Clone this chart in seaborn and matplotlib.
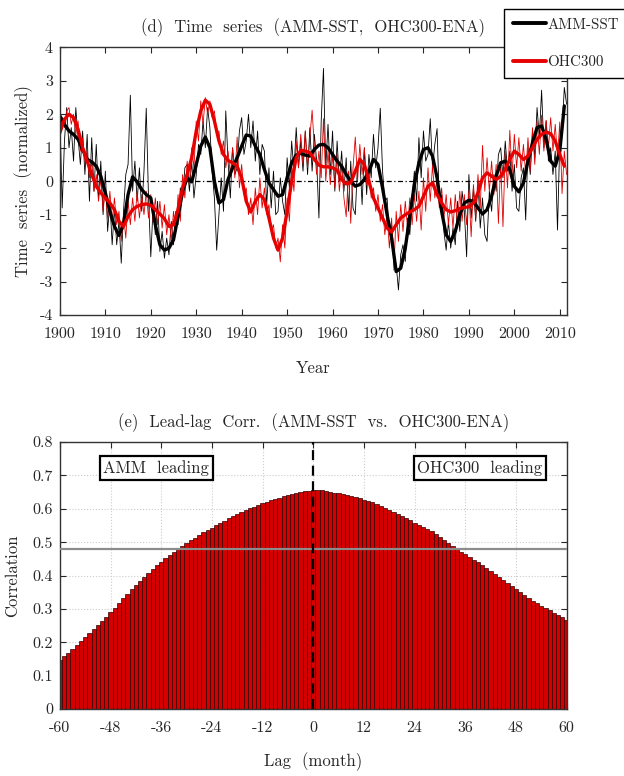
import numpy as np
import matplotlib
matplotlib.use("Agg")
import matplotlib.pyplot as plt
from matplotlib.lines import Line2D
import seaborn as sns

# ---- data ----
years = np.arange(1900, 2012)
amm_smooth = [1.95, 1.70, 1.50, 1.40, 1.25, 0.95, 0.65, 0.58, 0.45, 0.15,
              -0.35, -0.90, -1.35, -1.62, -1.30, -0.40, 0.13, -0.02, -0.25, -0.40,
              -0.50, -1.30, -1.90, -2.06, -2.00, -1.75, -1.05, -0.30, 0.10, -0.02,
              0.50, 1.05, 1.32, 1.00, 0.00, -0.65, -0.55, 0.05, 0.40, 0.70,
              1.05, 1.38, 1.35, 1.05, 0.80, 0.35, -0.05, -0.25, -0.45, -0.40,
              0.10, 0.55, 0.78, 0.83, 0.78, 0.75, 0.95, 1.08, 1.10, 1.00,
              0.80, 0.60, 0.45, 0.20, 0.00, -0.15, -0.10, 0.05, 0.30, 0.65,
              0.50, -0.20, -1.00, -1.70, -2.70, -2.60, -2.00, -1.05, -0.10, 0.55,
              0.95, 1.00, 0.75, 0.10, -0.90, -1.60, -1.80, -1.50, -1.00, -0.65,
              -0.57, -0.60, -0.80, -0.98, -0.85, -0.45, 0.15, 0.55, 0.60, 0.35,
              -0.15, -0.32, -0.05, 0.60, 1.15, 1.60, 1.65, 1.25, 0.60, 0.45,
              0.90, 2.25]
ohc_smooth = [1.45, 1.85, 2.00, 1.90, 1.55, 1.00, 0.60, 0.20, -0.15, -0.35,
              -0.50, -0.65, -0.85, -1.20, -1.35, -1.05, -0.85, -0.75, -0.70, -0.68,
              -0.72, -0.85, -0.98, -1.12, -1.35, -1.30, -0.85, -0.20, 0.20, 0.70,
              1.50, 2.10, 2.42, 2.30, 1.80, 1.20, 0.80, 0.62, 0.55, 0.45,
              0.10, -0.60, -0.92, -0.60, -0.40, -0.55, -1.10, -1.70, -2.06, -1.70,
              -0.90, 0.00, 0.70, 0.92, 0.90, 0.85, 0.65, 0.48, 0.43, 0.43,
              0.40, 0.33, 0.05, -0.08, -0.05, 0.30, 0.65, 0.50, 0.00, -0.50,
              -0.80, -1.10, -1.40, -1.52, -1.30, -1.10, -1.00, -0.92, -0.85, -0.75,
              -0.45, -0.15, -0.05, -0.40, -0.65, -0.85, -0.92, -0.88, -0.82, -0.78,
              -0.77, -0.65, -0.35, 0.10, 0.25, 0.15, 0.05, 0.15, 0.35, 0.65,
              0.90, 0.80, 0.65, 0.75, 1.00, 1.25, 1.40, 1.47, 1.42, 1.20,
              0.80, 0.45]

half_years = np.arange(1900, 2012, 0.5)
amm_raw = [2.0, -0.8, 1.2, 2.2, 1.0, 1.6, 0.6, 2.2, 1.3, 0.5,
           1.5, 0.2, 1.4, -0.6, 1.3, -0.3, 1.1, -0.5, 0.6, -1.0,
           0.3, -1.5, -0.6, -1.9, -0.8, -1.9, -1.2, -2.45, -0.9, 0.2,
           0.5, 2.57, -0.3, 0.6, -0.6, 0.4, -0.9, 0.3, 2.18, -0.5,
           -2.26, -0.8, -1.6, -0.6, -2.1, -1.5, -2.3, -1.7, -2.2, -1.2,
           -1.9, -0.9, -1.3, -0.2, -0.5, 0.4, 0.5, -0.3, 0.6, -0.5,
           0.2, 1.1, 0.8, 1.8, 1.0, 2.2, 1.6, 0.3, -0.5, -2.06,
           -1.0, 0.1, -0.9, 2.1, 0.6, -0.5, 1.0, 0.2, 0.4, 1.5,
           1.9, 0.8, 1.2, 2.0, 1.0, 1.8, 0.6, 1.5, 0.2, 1.1,
           0.9, -0.7, 0.4, -0.8, 0.3, -1.0, -0.9, 0.1, -0.6, -1.0,
           0.7, -0.2, 1.2, 0.3, 1.6, 0.4, 1.2, 0.3, 1.5, 0.2,
           1.6, 0.3, 1.4, 0.6, -1.1, 1.8, 3.37, 0.4, 1.7, 0.2,
           1.5, -0.3, 1.2, 0.0, 0.9, -0.3, 0.7, -0.9, 0.6, -0.8,
           -1.0, 0.5, 0.7, -0.7, 1.0, -0.4, 0.8, 0.1, 1.4, 0.4,
           1.0, 2.18, 0.3, -0.6, -0.5, -1.6, -1.3, -2.2, -2.5, -3.25,
           -2.2, -1.9, -2.4, -1.1, -1.6, -0.5, 0.3, -0.6, 1.3, 0.1,
           1.5, 0.6, 0.8, 1.87, 0.4, 1.1, 1.57, -0.7, -0.4, -1.5,
           -2.06, -1.2, -2.0, -1.4, -1.9, -0.6, -1.5, -0.3, -0.9, -2.26,
           0.2, -1.1, -0.2, -1.2, 0.0, -1.4, -0.5, -1.6, -1.8, -0.3,
           -0.9, 0.2, -0.3, 0.8, 1.0, 0.1, 1.2, 0.3, 0.9, -0.3,
           0.5, -0.8, -0.9, 0.1, 0.4, -1.16, 1.0, 0.2, 1.5, 0.7,
           2.2, 1.3, 2.72, 1.0, 1.8, 0.6, 1.0, 0.2, 0.9, -1.46,
           1.2, 1.5, 2.8, 2.3]
ohc_raw = [1.2, 1.9, 1.6, 2.1, 2.2, 1.7, 2.0, 1.4, 1.8, 0.9,
           1.3, 0.6, 0.9, 0.1, 0.6, -0.3, 0.2, -0.6, 0.1, -0.9,
           -0.2, -1.1, -0.3, -1.2, -0.5, -1.3, -0.9, -1.8, -1.0, -1.7,
           -0.6, -1.3, -0.5, -1.2, -0.3, -1.1, -0.4, -1.0, -0.3, -1.1,
           -0.4, -1.2, -0.5, -1.3, -0.6, -1.4, -0.7, -1.6, -1.0, -1.8,
           -0.9, -1.5, -0.4, -1.2, 0.2, -0.5, 0.6, -0.1, 1.0, 0.4,
           1.8, 1.2, 2.4, 1.7, 2.5, 2.0, 2.4, 1.9, 2.1, 1.4,
           1.5, 0.8, 1.2, 0.4, 0.9, 0.2, 1.0, 0.1, 1.32, -0.2,
           0.5, -0.4, -0.2, -1.0, -0.5, -1.3, -0.2, -1.0, 0.1, -0.8,
           -0.2, -1.0, -0.7, -1.5, -1.3, -2.0, -1.7, -2.41, -1.3, -2.0,
           -0.5, -1.2, 0.4, -0.3, 1.2, 0.4, 1.4, 0.5, 1.5, 0.4,
           1.3, 2.12, 1.0, 0.2, 0.9, 0.1, 1.87, 0.0, 0.9, -0.1,
           0.8, -0.2, 0.8, -0.3, 0.5, -0.5, -1.06, 0.3, -1.26, 0.4,
           1.32, 0.0, 1.1, 0.2, 1.0, -0.1, 0.4, -0.5, -0.2, -0.9,
           -0.4, -1.2, -0.7, -1.6, -1.0, -2.0, -1.1, -2.66, -0.9, -1.8,
           -0.7, -1.5, -0.6, -1.4, -0.5, -1.3, -0.4, -1.2, -0.3, -1.46,
           0.1, -0.9, 0.4, -0.6, 0.5, -0.5, 0.1, -0.8, -0.2, -1.1,
           -0.4, -1.3, -0.5, -1.4, -0.4, -1.3, -0.3, -1.2, -0.4, -1.3,
           -0.3, -1.66, -0.1, -1.1, 0.2, -0.8, 1.07, -0.3, 0.7, -0.3,
           0.6, -0.4, 0.5, -1.26, 0.6, -1.36, 0.9, -0.2, 1.52, 0.2,
           1.4, 0.4, 1.3, 0.3, 1.1, 0.2, 1.3, 0.3, 1.6, 0.5,
           1.8, 0.8, 1.97, 0.9, 1.82, 1.0, 1.9, 0.9, 1.7, 0.7,
           1.77, -0.37, 0.9, 0.2]

lags = np.arange(-60, 61)
corr = [0.147, 0.158, 0.169, 0.180, 0.191, 0.203, 0.215, 0.227, 0.239, 0.252,
        0.264, 0.277, 0.290, 0.304, 0.318, 0.332, 0.346, 0.359, 0.372, 0.385,
        0.397, 0.409, 0.420, 0.431, 0.442, 0.452, 0.462, 0.472, 0.481, 0.490,
        0.498, 0.506, 0.514, 0.522, 0.530, 0.537, 0.544, 0.551, 0.558, 0.565,
        0.572, 0.578, 0.584, 0.590, 0.596, 0.601, 0.606, 0.611, 0.616, 0.620,
        0.625, 0.629, 0.633, 0.637, 0.640, 0.643, 0.646, 0.649, 0.652, 0.654,
        0.656,
        0.656, 0.655, 0.653, 0.651, 0.648, 0.646, 0.643, 0.640, 0.637, 0.634,
        0.631, 0.627, 0.624, 0.619, 0.614, 0.609, 0.603, 0.597, 0.591, 0.585,
        0.579, 0.572, 0.566, 0.559, 0.553, 0.546, 0.540, 0.533, 0.525, 0.516,
        0.507, 0.498, 0.489, 0.480, 0.472, 0.464, 0.456, 0.448, 0.440, 0.432,
        0.423, 0.414, 0.405, 0.396, 0.387, 0.378, 0.369, 0.360, 0.351, 0.342,
        0.333, 0.325, 0.317, 0.310, 0.303, 0.296, 0.289, 0.282, 0.275, 0.268]
sig_level = 0.48

# ---- style ----
sns.set_style("ticks")
plt.rcParams["font.family"] = ["cmr10", "DejaVu Serif"]
plt.rcParams["axes.unicode_minus"] = False
plt.rcParams["axes.formatter.use_mathtext"] = False
plt.rcParams["font.size"] = 12
plt.rcParams["axes.edgecolor"] = "#333333"
plt.rcParams["axes.linewidth"] = 1.0

fig = plt.figure(figsize=(6.24, 7.76), dpi=100)
ax1 = fig.add_axes([0.096, 0.594, 0.812, 0.345])
ax2 = fig.add_axes([0.096, 0.0863, 0.812, 0.344])

# (d) time series
ax1.axhline(0, color="black", lw=0.9, ls=(0, (4, 2, 1, 2)))
sns.lineplot(x=half_years, y=amm_raw, color="black", lw=0.6, ax=ax1)
sns.lineplot(x=half_years, y=ohc_raw, color="#e00000", lw=0.6, ax=ax1)
sns.lineplot(x=years, y=amm_smooth, color="black", lw=2.4, ax=ax1)
sns.lineplot(x=years, y=ohc_smooth, color="#e60000", lw=2.4, ax=ax1)
ax1.set_xlim(1900, 2011.5)
ax1.set_ylim(-4, 4)
ax1.set_xticks(range(1900, 2011, 10))
ax1.set_yticks(range(-4, 5))
ax1.set_title("(d)  Time  series  (AMM-SST,  OHC300-ENA)", fontsize=12, pad=11)
ax1.set_xlabel("Year", labelpad=14)
ax1.set_ylabel("Time  series  (normalized)", labelpad=5)

handles = [Line2D([], [], color="black", lw=2.8),
           Line2D([], [], color="#e60000", lw=2.8)]
leg = ax1.legend(handles, ["AMM-SST", "OHC300"], loc="upper left",
                 bbox_to_anchor=(504 / 624, 1 - 9 / 776),
                 bbox_transform=fig.transFigure, fancybox=False,
                 edgecolor="black", framealpha=1, fontsize=10.8,
                 handlelength=2.2, handletextpad=0.1, labelspacing=1.6,
                 borderpad=0.6, borderaxespad=0)
leg.get_frame().set_linewidth(1.0)

# (e) lead-lag correlation
sns.barplot(x=lags, y=corr, native_scale=True, width=1.0, color="#d40000",
            saturation=1, edgecolor="#300000", linewidth=0.5, ax=ax2, zorder=2)
ax2.axhline(sig_level, color="#8c8c8c", lw=1.6, zorder=3)
ax2.axvline(0, color="black", lw=1.6, ls=(0, (4.5, 2.5)), zorder=4)
ax2.set_xlim(-60, 60)
ax2.set_ylim(0, 0.8)
ax2.set_xticks(range(-60, 61, 12))
ax2.set_yticks(np.arange(0, 0.81, 0.1))
ax2.set_yticklabels(["0", "0.1", "0.2", "0.3", "0.4", "0.5", "0.6", "0.7", "0.8"])
ax2.grid(True, color="#cccccc", ls=":", lw=0.8, zorder=0)
ax2.set_axisbelow(True)
ax2.set_title("(e)  Lead-lag  Corr.  (AMM-SST  vs.  OHC300-ENA)", fontsize=12, pad=11)
ax2.set_xlabel("Lag  (month)", labelpad=12)
ax2.set_ylabel("Correlation", labelpad=9)
box = dict(boxstyle="square,pad=0.22", fc="white", ec="black", lw=1.6)
ax2.text(0.19, 0.903, "AMM  leading", transform=ax2.transAxes, ha="center",
         va="center", bbox=box, zorder=5)
ax2.text(0.829, 0.903, "OHC300  leading", transform=ax2.transAxes, ha="center",
         va="center", bbox=box, zorder=5)

for ax in (ax1, ax2):
    ax.tick_params(direction="in", length=4, width=0.8, top=True, right=True,
                   labelsize=11.5)
    ax.tick_params(axis="x", pad=9)
    ax.tick_params(axis="y", pad=5)
    for s in ax.spines.values():
        s.set_visible(True)

fig.savefig("out.png", dpi=100)
